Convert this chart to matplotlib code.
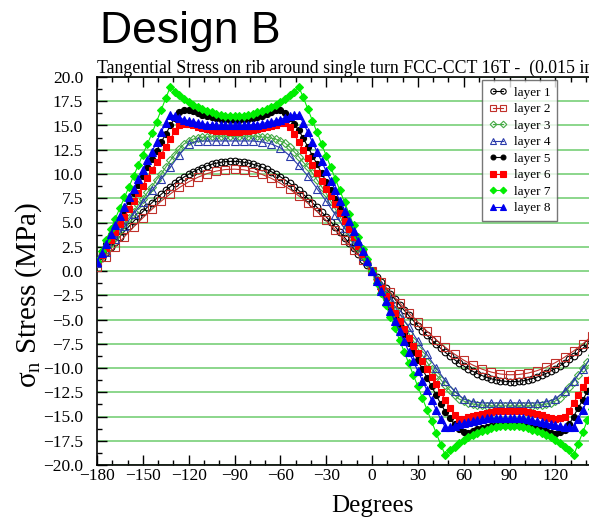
import numpy as np
import matplotlib
matplotlib.use('Agg')
import matplotlib.pyplot as plt
from matplotlib.ticker import MultipleLocator, FuncFormatter

plt.rcParams['font.family'] = ['Liberation Serif', 'DejaVu Serif']
plt.rcParams['mathtext.fontset'] = 'custom'
plt.rcParams['mathtext.rm'] = 'Liberation Serif'
plt.rcParams['mathtext.it'] = 'Liberation Serif:italic'

# angle grids (deg): layers 2 and 4 were sampled more coarsely
deg_fine = np.arange(-180, 181, 3)
deg_coarse = np.arange(-180, 181, 6)

layer1 = [0.80, 1.36, 1.91, 2.47, 3.01, 3.55, 4.09, 4.61, 5.13, 5.63,
          6.12, 6.59, 7.05, 7.49, 7.91, 8.31, 8.69, 9.04, 9.38, 9.69,
          9.97, 10.23, 10.46, 10.67, 10.85, 11.00, 11.11, 11.21, 11.27, 11.30,
          11.30, 11.27, 11.21, 11.13, 11.01, 10.86, 10.69, 10.48, 10.25, 9.99,
          9.71, 9.40, 9.06, 8.70, 8.31, 7.91, 7.48, 7.03, 6.57, 6.08,
          5.58, 5.07, 4.54, 4.00, 3.45, 2.89, 2.32, 1.75, 1.17, 0.58,
          0.00,
          -0.59, -1.18, -1.76, -2.34, -2.91, -3.48, -4.04, -4.58, -5.11, -5.63,
          -6.14, -6.63, -7.10, -7.55, -7.98, -8.39, -8.78, -9.14, -9.48, -9.79,
          -10.08, -10.34, -10.58, -10.78, -10.96, -11.11, -11.22, -11.31, -11.37, -11.40,
          -11.40, -11.37, -11.31, -11.21, -11.09, -10.94, -10.76, -10.56, -10.32, -10.06,
          -9.77, -9.46, -9.12, -8.76, -8.38, -7.97, -7.55, -7.11, -6.64, -6.17,
          -5.67, -5.17, -4.65, -4.12, -3.58, -3.03, -2.48, -1.92, -1.36, -0.80]

layer2 = [0.40, 1.46, 2.51, 3.54, 4.54, 5.48, 6.37, 7.20, 7.95, 8.61,
          9.19, 9.66, 10.04, 10.30, 10.46, 10.50, 10.43, 10.25, 9.96, 9.56,
          9.05, 8.45, 7.76, 6.99, 6.13, 5.22, 4.24, 3.22, 2.17, 1.09,
          0.00,
          -1.10, -2.19, -3.26, -4.30, -5.28, -6.21, -7.08, -7.87, -8.57, -9.19,
          -9.70, -10.12, -10.42, -10.62, -10.70, -10.67, -10.53, -10.28, -9.92, -9.45,
          -8.89, -8.24, -7.51, -6.69, -5.82, -4.88, -3.90, -2.89, -1.85, -0.80]

layer3 = [0.9, 1.6, 2.2, 2.9, 3.5, 4.2, 4.8, 5.5, 6.1, 6.8,
          7.4, 8.1, 8.7, 9.4, 10.0, 10.7, 11.4, 12.0, 12.6, 13.1,
          13.4, 13.6, 13.7, 13.8, 13.8, 13.9, 13.9, 13.9, 13.9, 13.9,
          13.9, 13.9, 13.9, 13.9, 13.9, 13.9, 13.8, 13.8, 13.7, 13.6,
          13.4, 13.2, 12.8, 12.3, 11.8, 11.2, 10.7, 10.1, 9.4, 8.7,
          8.0, 7.2, 6.4, 5.6, 4.8, 4.0, 3.2, 2.4, 1.6, 0.8,
          0.0,
          -0.8, -1.6, -2.4, -3.2, -4.0, -4.8, -5.6, -6.4, -7.2, -8.0,
          -8.7, -9.4, -10.1, -10.7, -11.2, -11.8, -12.3, -12.8, -13.2, -13.4,
          -13.6, -13.7, -13.8, -13.8, -13.9, -13.9, -13.9, -13.9, -13.9, -13.9,
          -13.9, -13.9, -13.9, -13.9, -13.9, -13.8, -13.8, -13.7, -13.6, -13.4,
          -13.1, -12.6, -12.0, -11.4, -10.7, -10.0, -9.4, -8.7, -8.1, -7.4,
          -6.8, -6.1, -5.5, -4.8, -4.2, -3.5, -2.9, -2.2, -1.6, -0.9]

layer4 = [0.8, 2.0, 3.3, 4.6, 5.9, 7.1, 8.3, 9.5, 10.7, 12.0,
          13.1, 13.4, 13.4, 13.4, 13.4, 13.4, 13.4, 13.4, 13.3, 13.1,
          12.7, 11.9, 10.9, 9.8, 8.5, 7.2, 5.8, 4.4, 3.0, 1.5,
          0.0,
          -1.4, -2.9, -4.4, -5.8, -7.2, -8.6, -10.0, -11.3, -12.4, -13.2,
          -13.5, -13.6, -13.6, -13.6, -13.6, -13.6, -13.6, -13.6, -13.5, -13.2,
          -12.4, -11.3, -10.1, -8.8, -7.5, -6.2, -4.8, -3.4, -2.1, -0.8]

layer5 = [1.0, 1.9, 2.8, 3.7, 4.5, 5.4, 6.3, 7.2, 8.0, 8.9,
          9.8, 10.7, 11.5, 12.4, 13.3, 14.1, 15.0, 15.8, 16.4, 16.6,
          16.6, 16.5, 16.3, 16.1, 16.0, 15.9, 15.8, 15.7, 15.7, 15.6,
          15.6, 15.6, 15.7, 15.7, 15.8, 15.9, 16.0, 16.2, 16.4, 16.6,
          16.6, 16.3, 15.8, 15.2, 14.5, 13.7, 12.8, 11.9, 11.0, 10.1,
          9.2, 8.3, 7.4, 6.5, 5.6, 4.6, 3.7, 2.8, 1.9, 0.9,
          0.0,
          -0.9, -1.9, -2.8, -3.7, -4.6, -5.6, -6.5, -7.4, -8.3, -9.2,
          -10.1, -11.0, -11.9, -12.8, -13.7, -14.5, -15.2, -15.8, -16.3, -16.6,
          -16.7, -16.5, -16.3, -16.2, -16.1, -16.0, -15.9, -15.9, -15.9, -15.9,
          -15.9, -15.9, -16.0, -16.0, -16.1, -16.2, -16.3, -16.5, -16.7, -16.8,
          -16.6, -16.4, -15.8, -15.0, -14.1, -13.3, -12.4, -11.5, -10.7, -9.8,
          -8.9, -8.0, -7.2, -6.3, -5.4, -4.5, -3.7, -2.8, -1.9, -1.0]

layer6 = [0.8, 1.6, 2.4, 3.2, 4.0, 4.8, 5.6, 6.4, 7.2, 8.0,
          8.8, 9.6, 10.4, 11.2, 12.0, 12.8, 13.6, 14.4, 15.0, 15.2,
          15.2, 15.0, 14.8, 14.7, 14.6, 14.5, 14.4, 14.4, 14.4, 14.3,
          14.3, 14.3, 14.4, 14.4, 14.5, 14.6, 14.7, 14.8, 14.9, 15.1,
          15.3, 15.3, 14.8, 14.1, 13.3, 12.5, 11.7, 10.9, 10.1, 9.3,
          8.5, 7.7, 6.9, 6.0, 5.2, 4.3, 3.5, 2.6, 1.8, 0.9,
          0.0,
          -0.9, -1.8, -2.6, -3.5, -4.3, -5.2, -6.0, -6.9, -7.7, -8.5,
          -9.3, -10.1, -10.9, -11.7, -12.5, -13.3, -14.1, -14.8, -15.3, -15.3,
          -15.1, -14.9, -14.8, -14.7, -14.6, -14.5, -14.4, -14.4, -14.4, -14.4,
          -14.4, -14.4, -14.4, -14.5, -14.6, -14.7, -14.8, -15.0, -15.2, -15.3,
          -15.2, -15.0, -14.4, -13.6, -12.8, -12.0, -11.2, -10.4, -9.6, -8.8,
          -8.0, -7.2, -6.4, -5.6, -4.8, -4.0, -3.2, -2.4, -1.6, -0.8]

layer7 = [1.0, 2.1, 3.2, 4.3, 5.4, 6.5, 7.6, 8.7, 9.8, 10.9,
          12.0, 13.1, 14.2, 15.4, 16.6, 17.8, 19.0, 18.5, 18.1, 17.7,
          17.4, 17.1, 16.9, 16.7, 16.5, 16.4, 16.2, 16.1, 16.0, 16.0,
          16.0, 16.0, 16.0, 16.1, 16.2, 16.4, 16.5, 16.7, 16.9, 17.1,
          17.4, 17.7, 18.1, 18.5, 19.0, 17.9, 16.7, 15.5, 14.3, 13.1,
          11.9, 10.7, 9.5, 8.3, 7.1, 5.9, 4.7, 3.5, 2.3, 1.2,
          0.0,
          -1.2, -2.3, -3.5, -4.7, -5.9, -7.1, -8.3, -9.5, -10.7, -11.9,
          -13.1, -14.3, -15.5, -16.7, -17.9, -19.0, -18.5, -18.1, -17.7, -17.4,
          -17.1, -16.9, -16.7, -16.5, -16.4, -16.2, -16.1, -16.0, -16.0, -16.0,
          -16.0, -16.0, -16.1, -16.2, -16.4, -16.5, -16.7, -16.9, -17.1, -17.4,
          -17.7, -18.1, -18.5, -19.0, -17.8, -16.6, -15.4, -14.2, -13.1, -12.0,
          -10.9, -9.8, -8.7, -7.6, -6.5, -5.4, -4.3, -3.2, -2.1, -1.0]

layer8 = [0.9, 1.9, 2.8, 3.8, 4.7, 5.7, 6.6, 7.6, 8.5, 9.5,
          10.4, 11.4, 12.3, 13.3, 14.3, 15.3, 16.1, 16.0, 15.8, 15.6,
          15.5, 15.4, 15.3, 15.2, 15.1, 15.1, 15.0, 15.0, 15.0, 15.0,
          15.0, 15.0, 15.0, 15.0, 15.1, 15.1, 15.2, 15.3, 15.4, 15.5,
          15.6, 15.8, 16.0, 16.1, 16.1, 15.3, 14.3, 13.3, 12.3, 11.3,
          10.3, 9.3, 8.3, 7.2, 6.2, 5.2, 4.1, 3.1, 2.1, 1.0,
          0.0,
          -1.0, -2.1, -3.1, -4.1, -5.2, -6.2, -7.2, -8.3, -9.3, -10.3,
          -11.3, -12.3, -13.3, -14.3, -15.3, -16.1, -16.1, -16.0, -15.8, -15.7,
          -15.6, -15.5, -15.4, -15.3, -15.2, -15.2, -15.2, -15.2, -15.2, -15.2,
          -15.2, -15.2, -15.2, -15.3, -15.4, -15.5, -15.6, -15.7, -15.8, -15.9,
          -16.0, -16.1, -16.1, -16.1, -15.3, -14.3, -13.3, -12.3, -11.4, -10.4,
          -9.5, -8.5, -7.6, -6.6, -5.7, -4.7, -3.8, -2.8, -1.9, -0.9]

labels = ['layer 1', 'layer 2', 'layer 3', 'layer 4',
          'layer 5', 'layer 6', 'layer 7', 'layer 8']

series = [
    (deg_fine, layer1, 'o', 'black', 'none', 4.8),
    (deg_coarse, layer2, 's', '#c0302a', 'none', 5.6),
    (deg_fine, layer3, 'D', '#44aa44', 'none', 4.2),
    (deg_coarse, layer4, '^', '#2a3aaa', 'none', 5.8),
    (deg_fine, layer5, 'o', 'black', 'black', 4.4),
    (deg_fine, layer6, 's', '#ff0000', '#ff0000', 5.0),
    (deg_fine, layer7, 'D', '#00ee00', '#00ee00', 4.2),
    (deg_fine, layer8, '^', '#0000ee', '#0000ee', 5.4),
]

W, H = 589, 517
fig = plt.figure(figsize=(W / 100, H / 100), dpi=100)
# the x axis runs to +180 beyond the right edge of the picture
ax = fig.add_axes([97 / W, 52 / H, 550 / W, 388 / H])

for (x, y, mk, col, face, ms), lab in zip(series, labels):
    ax.plot(x, y, marker=mk, color=col, mfc=face, mec=col, ms=ms,
            lw=0.8, mew=0.8, label=lab, zorder=3)

ax.set_xlim(-180, 180)
ax.set_ylim(-20, 20)
ax.xaxis.set_major_locator(MultipleLocator(30))
ax.xaxis.set_minor_locator(MultipleLocator(10))
ax.yaxis.set_major_locator(MultipleLocator(2.5))
ax.yaxis.set_minor_locator(MultipleLocator(1.25))
ax.yaxis.set_major_formatter(FuncFormatter(lambda v, p: ('%.1f' % v).replace('-', '\u2212')))
ax.xaxis.set_major_formatter(FuncFormatter(lambda v, p: ('%d' % v).replace('-', '\u2212')))

ax.grid(axis='y', which='major', color='#6ccc6c', lw=1.1, zorder=1)
ax.tick_params(which='both', direction='in', top=True, right=True,
               width=1.0, labelsize=12.5)
ax.tick_params(which='major', length=7)
ax.tick_params(which='minor', length=3.5)
ax.tick_params(axis='x', pad=2)
ax.tick_params(axis='y', pad=10)
for s in ax.spines.values():
    s.set_linewidth(1.2)

leg = ax.legend(loc='upper left', bbox_to_anchor=(0.70, 0.992),
                fontsize=9.5, frameon=True, fancybox=False,
                edgecolor='#555555', borderaxespad=0, handlelength=1.4,
                handletextpad=0.5, labelspacing=0.32, borderpad=0.5,
                numpoints=2, markerscale=0.8)
leg.get_frame().set_linewidth(1.0)

fig.text(100 / W, 1 - 43 / H, 'Design B', fontfamily='Liberation Sans',
         fontsize=32, va='baseline')
fig.text(97 / W, 1 - 73 / H,
         'Tangential Stress on rib around single turn FCC-CCT 16T -  (0.015 in)',
         fontsize=12.8, va='baseline')
fig.text(372 / W, 1 - 512 / H, 'Degrees', fontsize=18, ha='center',
         va='baseline')
fig.text(29 / W, 1 - 295 / H, 'σ$_{\\mathrm{n}}$ Stress (MPa)', fontsize=21,
         rotation=90, ha='center', va='center')

fig.savefig('out.png', dpi=100)
